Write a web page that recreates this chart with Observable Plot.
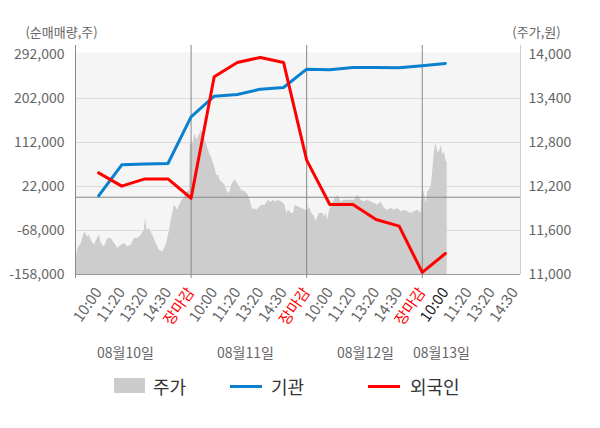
<!DOCTYPE html>
<html><head><meta charset="utf-8">
<script src="https://cdn.jsdelivr.net/npm/d3@7"></script>
<script src="https://cdn.jsdelivr.net/npm/@observablehq/plot@0.6"></script>
<style>
body{margin:0;background:#fff;font-family:"Noto Sans CJK KR","Noto Sans",sans-serif;}
#wrap{position:relative;width:600px;height:428px;overflow:hidden;}
.lg{position:absolute;font-size:18px;color:#333;line-height:18px;}
.sw{position:absolute;}
</style></head><body>
<div id="wrap">
<div id="chart"></div>
<div class="sw" style="left:114px;top:378px;width:31px;height:15px;background:#cccccc"></div>
<div class="lg" style="left:153px;top:377px">주가</div>
<div class="sw" style="left:230px;top:385px;width:32px;height:3px;background:#0a80d0"></div>
<div class="lg" style="left:271px;top:377px">기관</div>
<div class="sw" style="left:368px;top:385px;width:32px;height:3px;background:#ff0000"></div>
<div class="lg" style="left:410px;top:377px">외국인</div>
</div>
<script>
const slotLabels = ["10:00","11:20","13:20","14:30","장마감"];
const days = ["08월10일","08월11일","08월12일","08월13일"];
const dayCenters = [2.16, 7.35, 12.54, 15.83];
const leftTicks = [-158000, -68000, 22000, 112000, 202000, 292000];
const rightTicks = [11000, 11600, 12200, 12800, 13400, 14000];

const flowPos = [1,2,3,4,5,6,7,8,9,10,11,12,13,14,15,16];
const instVals = [3000, 66300, 67800, 69100, 164500, 206800, 210300, 221100, 224600, 262000, 260600, 265500, 265500, 264700, 268800, 273700];
const foreignVals = [49900, 22700, 37500, 37500, -2000, 246300, 275700, 286000, 275700, 75900, -14800, -14800, -45400, -59100, -153800, -115000];

const pricePos = [0.00,0.03,0.10,0.25,0.39,0.53,0.61,0.68,0.82,0.97,1.04,1.11,1.25,1.40,1.54,1.69,1.83,1.98,2.12,2.26,2.41,2.55,2.69,2.84,2.98,3.03,3.10,3.20,3.34,3.49,3.63,3.78,3.92,4.07,4.14,4.28,4.42,4.57,4.71,4.86,4.93,
4.96,5.03,5.10,5.18,5.25,5.32,5.39,5.46,5.54,5.61,5.68,5.75,5.83,5.90,5.97,6.04,6.11,6.19,6.26,6.33,6.40,6.47,6.54,6.62,6.69,6.76,6.83,6.91,6.98,7.05,7.19,7.34,7.48,7.56,7.63,7.70,7.77,7.84,7.92,8.06,8.20,8.35,8.42,8.49,8.56,8.64,8.78,8.92,9.07,9.14,9.21,9.36,9.43,9.50,9.65,9.79,9.94,
10.05,10.12,10.19,10.34,10.41,10.48,10.55,10.70,10.77,10.84,10.91,10.99,11.06,11.20,11.35,11.49,11.63,11.78,11.92,12.07,12.21,12.36,12.50,12.64,12.79,12.93,13.08,13.22,13.37,13.51,13.65,13.80,13.94,14.09,14.23,14.37,14.52,14.66,14.81,14.95,
15.02,15.09,15.17,15.24,15.31,15.39,15.45,15.53,15.60,15.67,15.74,15.82,15.89,15.96,16.04,16.08];
const priceVals = [11200,11218,11355,11423,11581,11513,11536,11468,11400,11513,11536,11423,11377,11491,11491,11423,11355,11400,11423,11377,11400,11491,11491,11536,11604,11764,11604,11627,11536,11423,11331,11309,11400,11604,11740,11945,11877,11990,12058,12127,12150,
12786,12763,12810,12923,12832,12877,12923,12968,12900,12832,12763,12695,12627,12582,12514,12445,12354,12354,12286,12263,12241,12218,12150,12104,12127,12218,12263,12286,12263,12218,12150,12127,12081,12013,11922,11877,11900,11877,11900,11945,11945,12013,11990,11990,12013,11990,12013,11990,11945,11832,11877,11832,11832,11945,11922,11900,11877,
11877,11922,11854,11786,11718,11786,11832,11832,11786,11832,11740,11877,11945,12013,12081,11990,12013,12013,12013,12013,12081,12013,11990,12013,11990,11968,11945,11990,11900,11877,11900,11877,11900,11854,11877,11854,11832,11854,11877,11832,
12173,12104,11968,12127,12150,12218,12399,12695,12786,12672,12672,12763,12627,12672,12536,12536];

const yMin = leftTicks[0], yMax = leftTicks[leftTicks.length-1];
const pMin = rightTicks[0], pMax = rightTicks[rightTicks.length-1];
const toLeft = v => yMin + (v - pMin) / (pMax - pMin) * (yMax - yMin);
const fmt = v => Math.round(v).toLocaleString("en-US");

const price = pricePos.map((p,i)=>({p, v: toLeft(priceVals[i])}));
const inst = flowPos.map((p,i)=>({p, v: instVals[i]}));
const foreign = flowPos.map((p,i)=>({p, v: foreignVals[i]}));

const tickPos = d3.range(1, 20);
const tickText = p => slotLabels[(p-1) % 5];
const grayTicks = tickPos.filter(p => p % 5 !== 0 && p !== 16);
const redTicks = tickPos.filter(p => p % 5 === 0);
const FONT = '"Noto Sans CJK KR","Noto Sans",sans-serif';
const xAxisOpts = {tickFormat: tickText, tickRotate: -55, tickSize: 0, tickPadding: 15, label: null, fontSize: 15};

const chart = Plot.plot({
  width: 600, height: 372,
  marginTop: 54, marginBottom: 98, marginLeft: 75, marginRight: 80,
  style: {fontFamily: FONT, fontSize: "14px", color: "#666", background: "#fff", overflow: "visible"},
  x: {domain: [0, 19.25]},
  y: {domain: [yMin, yMax]},
  marks: [
    Plot.frame({fill: "#f5f5f5", stroke: null, insetTop: -2}),
    Plot.ruleY(leftTicks.slice(1, -1), {stroke: "#dcdcdc", strokeWidth: 1}),
    Plot.areaY(price, {x: "p", y1: yMin, y2: "v", fill: "#cdcdcd"}),
    Plot.ruleY([0], {stroke: "#888", strokeWidth: 1}),
    Plot.ruleX([0, 5, 10, 15], {stroke: "#888", insetTop: -9, insetBottom: -4}),
    Plot.ruleX([19.25], {stroke: "#ccc", insetTop: -9}),
    Plot.ruleY([yMin], {stroke: "#999"}),
    Plot.lineY(inst, {x: "p", y: "v", stroke: "#0a80d0", strokeWidth: 3}),
    Plot.lineY(foreign, {x: "p", y: "v", stroke: "#ff0000", strokeWidth: 3}),
    Plot.axisY({ticks: leftTicks, tickSize: 0, tickPadding: 11, tickFormat: fmt, label: null, fontSize: 14, fill: "#666"}),
    Plot.axisY({anchor: "right", ticks: rightTicks.map(toLeft), tickSize: 0, tickPadding: 8,
      tickFormat: (d) => fmt(pMin + (d - yMin) / (yMax - yMin) * (pMax - pMin)), label: null, fontSize: 14, fill: "#666"}),
    Plot.axisX({ticks: grayTicks, ...xAxisOpts, fill: "#666"}),
    Plot.axisX({ticks: redTicks, ...xAxisOpts, fill: "#ff0000"}),
    Plot.axisX({ticks: [16], ...xAxisOpts, fill: "#222"}),
    Plot.text(days, {x: (d, i) => dayCenters[i], frameAnchor: "bottom", lineAnchor: "middle", dy: 79, text: d => d, fontSize: 14, fill: "#666"}),
    Plot.text(["(순매매량,주)"], {frameAnchor: "top-left", lineAnchor: "middle", dx: -14, dy: -22, textAnchor: "middle", fontSize: 13, fill: "#666"}),
    Plot.text(["(주가,원)"], {frameAnchor: "top-right", lineAnchor: "middle", dx: 16, dy: -22, textAnchor: "middle", fontSize: 13, fill: "#666"})
  ]
});
document.getElementById("chart").appendChild(chart);
</script>
</body></html>
